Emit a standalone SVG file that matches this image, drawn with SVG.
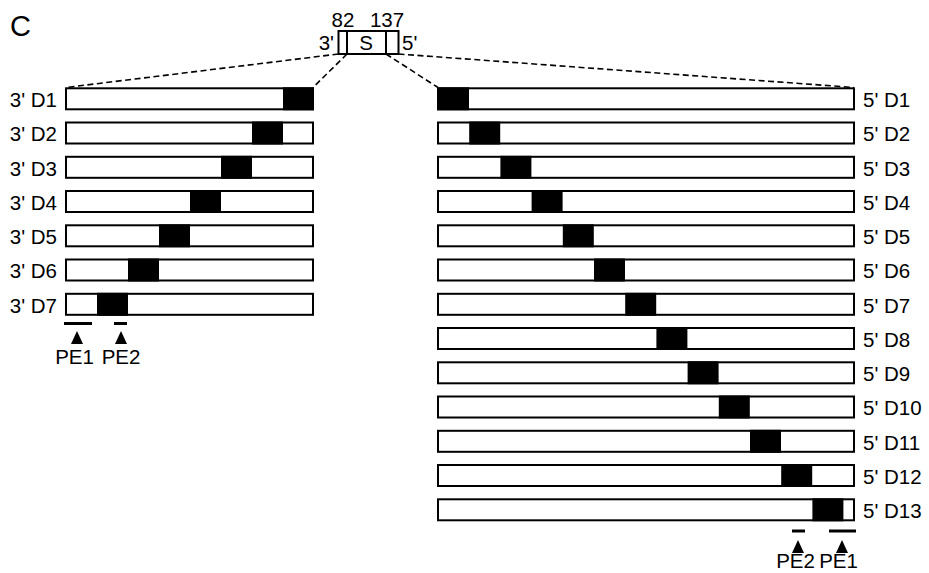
<svg xmlns="http://www.w3.org/2000/svg" width="929" height="573" viewBox="0 0 929 573">
<style>
text{font-family:"Liberation Sans",Arial,sans-serif;fill:#000}
.lbl{font-size:20.5px}
.bar{fill:#fff;stroke:#000;stroke-width:2}
.blk{fill:#000}
.dash{fill:none;stroke:#000;stroke-width:1.6;stroke-dasharray:6 3.5}
.pe{stroke:#000;stroke-width:3}
</style>
<rect width="929" height="573" fill="#fff"/>
<text x="10" y="36" style="font-size:29px">C</text>
<g id="S">
<rect x="338.5" y="31" width="60" height="23" fill="#fff" stroke="#000" stroke-width="2"/>
<line x1="347" y1="31" x2="347" y2="54" stroke="#000" stroke-width="2"/>
<line x1="386" y1="31" x2="386" y2="54" stroke="#000" stroke-width="2"/>
<text x="366" y="50" text-anchor="middle" class="lbl">S</text>
<text x="343" y="27" text-anchor="middle" class="lbl">82</text>
<text x="387" y="27" text-anchor="middle" class="lbl">137</text>
<text x="334" y="50" text-anchor="end" class="lbl">3'</text>
<text x="402" y="50" class="lbl">5'</text>
</g>
<g id="connectors">
<line class="dash" x1="338.5" y1="54" x2="66" y2="87.5"/>
<line class="dash" x1="347" y1="54" x2="313" y2="87.5"/>
<line class="dash" x1="386" y1="54" x2="438" y2="87.5"/>
<line class="dash" x1="398.5" y1="54" x2="854" y2="87.5"/>
</g>
<g id="left">
<g id="L1"><rect class="bar" x="66" y="88.3" width="247" height="21"/><rect class="blk" x="283" y="87.3" width="31" height="23"/><text class="lbl" x="57" y="107" text-anchor="end">3' D1</text></g>
<g id="L2"><rect class="bar" x="66" y="122.5" width="247" height="21"/><rect class="blk" x="252" y="121.5" width="31" height="23"/><text class="lbl" x="57" y="141.3" text-anchor="end">3' D2</text></g>
<g id="L3"><rect class="bar" x="66" y="156.8" width="247" height="21"/><rect class="blk" x="221" y="155.8" width="31" height="23"/><text class="lbl" x="57" y="175.5" text-anchor="end">3' D3</text></g>
<g id="L4"><rect class="bar" x="66" y="191" width="247" height="21"/><rect class="blk" x="190" y="190" width="31" height="23"/><text class="lbl" x="57" y="209.8" text-anchor="end">3' D4</text></g>
<g id="L5"><rect class="bar" x="66" y="225.3" width="247" height="21"/><rect class="blk" x="159" y="224.3" width="31" height="23"/><text class="lbl" x="57" y="244" text-anchor="end">3' D5</text></g>
<g id="L6"><rect class="bar" x="66" y="259.5" width="247" height="21"/><rect class="blk" x="128" y="258.5" width="31" height="23"/><text class="lbl" x="57" y="278.3" text-anchor="end">3' D6</text></g>
<g id="L7"><rect class="bar" x="66" y="293.8" width="247" height="21"/><rect class="blk" x="97" y="292.8" width="31" height="23"/><text class="lbl" x="57" y="312.5" text-anchor="end">3' D7</text></g>
</g>
<g id="right">
<g id="R1"><rect class="bar" x="438" y="88.3" width="416" height="21"/><rect class="blk" x="437" y="87.3" width="32" height="23"/><text class="lbl" x="863" y="107">5' D1</text></g>
<g id="R2"><rect class="bar" x="438" y="122.5" width="416" height="21"/><rect class="blk" x="469.2" y="121.5" width="31" height="23"/><text class="lbl" x="863" y="141.3">5' D2</text></g>
<g id="R3"><rect class="bar" x="438" y="156.8" width="416" height="21"/><rect class="blk" x="500.4" y="155.8" width="31" height="23"/><text class="lbl" x="863" y="175.5">5' D3</text></g>
<g id="R4"><rect class="bar" x="438" y="191" width="416" height="21"/><rect class="blk" x="531.6" y="190" width="31" height="23"/><text class="lbl" x="863" y="209.8">5' D4</text></g>
<g id="R5"><rect class="bar" x="438" y="225.3" width="416" height="21"/><rect class="blk" x="562.8" y="224.3" width="31" height="23"/><text class="lbl" x="863" y="244">5' D5</text></g>
<g id="R6"><rect class="bar" x="438" y="259.5" width="416" height="21"/><rect class="blk" x="594" y="258.5" width="31" height="23"/><text class="lbl" x="863" y="278.3">5' D6</text></g>
<g id="R7"><rect class="bar" x="438" y="293.8" width="416" height="21"/><rect class="blk" x="625.2" y="292.8" width="31" height="23"/><text class="lbl" x="863" y="312.5">5' D7</text></g>
<g id="R8"><rect class="bar" x="438" y="328" width="416" height="21"/><rect class="blk" x="656.4" y="327" width="31" height="23"/><text class="lbl" x="863" y="346.8">5' D8</text></g>
<g id="R9"><rect class="bar" x="438" y="362.3" width="416" height="21"/><rect class="blk" x="687.6" y="361.3" width="31" height="23"/><text class="lbl" x="863" y="381">5' D9</text></g>
<g id="R10"><rect class="bar" x="438" y="396.5" width="416" height="21"/><rect class="blk" x="718.8" y="395.5" width="31" height="23"/><text class="lbl" x="863" y="415.3">5' D10</text></g>
<g id="R11"><rect class="bar" x="438" y="430.8" width="416" height="21"/><rect class="blk" x="750" y="429.8" width="31" height="23"/><text class="lbl" x="863" y="449.5">5' D11</text></g>
<g id="R12"><rect class="bar" x="438" y="465" width="416" height="21"/><rect class="blk" x="781.2" y="464" width="31" height="23"/><text class="lbl" x="863" y="483.8">5' D12</text></g>
<g id="R13"><rect class="bar" x="438" y="499.3" width="416" height="21"/><rect class="blk" x="812.4" y="498.3" width="31" height="23"/><text class="lbl" x="863" y="518">5' D13</text></g>
</g>
<g id="PE-left">
<line class="pe" x1="64" y1="323.5" x2="92" y2="323.5"/>
<line class="pe" x1="114" y1="323.5" x2="127" y2="323.5"/>
<polygon points="77,331 71,344 83,344"/>
<polygon points="121,331 115,344 127,344"/>
<text class="lbl" x="74.5" y="364" text-anchor="middle">PE1</text>
<text class="lbl" x="121" y="364" text-anchor="middle">PE2</text>
</g>
<g id="PE-right">
<line class="pe" x1="792" y1="531" x2="805" y2="531"/>
<line class="pe" x1="829" y1="531" x2="856" y2="531"/>
<polygon points="798,540 792,553 804,553"/>
<polygon points="842,540 836,553 848,553"/>
<text class="lbl" x="795.5" y="568" text-anchor="middle">PE2</text>
<text class="lbl" x="838.5" y="568" text-anchor="middle">PE1</text>
</g>
</svg>
